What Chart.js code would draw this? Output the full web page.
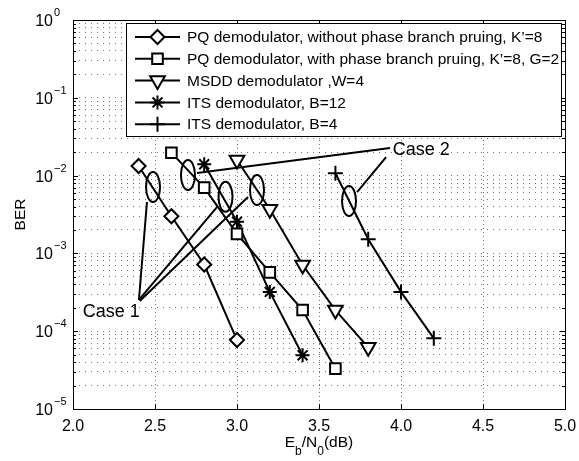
<!DOCTYPE html>
<html>
<head>
<meta charset="utf-8">
<script src="https://cdn.jsdelivr.net/npm/chart.js@4.4.1/dist/chart.umd.min.js"></script>
<style>
  html, body { margin: 0; padding: 0; background: #fff; }
  #wrap { width: 579px; height: 461px; }
</style>
</head>
<body>
<div id="wrap"><canvas id="ber" width="579" height="461"></canvas></div>
<script>
// Eb/N0 (dB) and measured BER for each curve
const snrPqNoPrune = [2.4, 2.6, 2.8, 3.0];
const berPqNoPrune = [0.0133, 0.0030, 0.00072, 0.000077];
const snrPqPrune = [2.6, 2.8, 3.0, 3.2, 3.4, 3.6];
const berPqPrune = [0.0197, 0.0070, 0.00178, 0.00057, 0.000187, 0.000033];
const snrMsdd = [3.0, 3.2, 3.4, 3.6, 3.8];
const berMsdd = [0.0159, 0.0037, 0.00071, 0.000187, 0.000062];
const snrIts12 = [2.8, 3.0, 3.2, 3.4];
const berIts12 = [0.0140, 0.00256, 0.00032, 0.000049];
const snrIts4 = [3.6, 3.8, 4.0, 4.2];
const berIts4 = [0.0107, 0.00152, 0.00032, 0.000081];

const seriesLabels = [
    'PQ demodulator, without phase branch pruing, K\u2019=8',
    'PQ demodulator, with phase branch pruing, K\u2019=8, G=2',
    'MSDD demodulator ,W=4',
    'ITS demodulator, B=12',
    'ITS demodulator, B=4'
];
const xTickLabels = ['2.0', '2.5', '3.0', '3.5', '4.0', '4.5', '5.0'];
const yDecades = [0, -1, -2, -3, -4, -5];

// annotation anchors, in axis units (Eb/N0, BER)
const caseNames = ['Case 1', 'Case 2'];
const caseTextAt = [[2.06, 1.77e-4], [3.95, 0.0213]];
const ringAt = [[2.488, 0.00714], [2.701, 0.01018], [2.93, 0.00535], [3.122, 0.00653], [3.683, 0.00472]];
const leaderLines = [
    [[2.402, 2.52e-4], [2.451, 0.00458]],
    [[2.402, 2.52e-4], [2.884, 0.00407]],
    [[2.407, 2.45e-4], [3.067, 0.00531]],
    [[3.933, 0.0226], [2.756, 0.0108]],
    [[3.909, 0.0173], [3.732, 0.00615]]
];

const FONT = '"Liberation Sans", Arial, Helvetica, sans-serif';

function pairs(xs, ys) {
    return xs.map(function (x, i) { return {x: x, y: ys[i]}; });
}

const markers = [
    {pointStyle: 'rectRot', rotation: 0, radius: 7},
    {pointStyle: 'rect', rotation: 0, radius: 7.5},
    {pointStyle: 'triangle', rotation: 180, radius: 8.5},
    {pointStyle: 'star', rotation: 0, radius: 7},
    {pointStyle: 'cross', rotation: 0, radius: 7.5}
];

const seriesData = [
    pairs(snrPqNoPrune, berPqNoPrune),
    pairs(snrPqPrune, berPqPrune),
    pairs(snrMsdd, berMsdd),
    pairs(snrIts12, berIts12),
    pairs(snrIts4, berIts4)
];

const datasets = seriesData.map(function (d, i) {
    return {
        label: seriesLabels[i],
        data: d,
        borderColor: '#000',
        borderWidth: 2,
        pointStyle: markers[i].pointStyle,
        pointRotation: markers[i].rotation,
        pointRadius: markers[i].radius,
        pointBorderColor: '#000',
        pointBackgroundColor: '#fff',
        pointBorderWidth: 2,
        tension: 0
    };
});

function drawMarker(ctx, m, x, y) {
    ctx.save();
    ctx.strokeStyle = '#000';
    ctx.fillStyle = '#fff';
    ctx.lineWidth = 2;
    Chart.helpers.drawPoint(ctx, {pointStyle: m.pointStyle, rotation: m.rotation, radius: m.radius, borderWidth: 2}, x, y);
    ctx.restore();
}

const annotations = {
    id: 'annotations',
    afterDatasetsDraw: function (chart) {
        const ctx = chart.ctx, xs = chart.scales.x, ys = chart.scales.y;
        ctx.save();
        ctx.strokeStyle = '#000';
        ctx.lineWidth = 2;
        ringAt.forEach(function (p) {
            ctx.beginPath();
            ctx.ellipse(xs.getPixelForValue(p[0]), ys.getPixelForValue(p[1]), 7, 15, 0, 0, Math.PI * 2);
            ctx.stroke();
        });
        leaderLines.forEach(function (l) {
            ctx.beginPath();
            ctx.moveTo(xs.getPixelForValue(l[0][0]), ys.getPixelForValue(l[0][1]));
            ctx.lineTo(xs.getPixelForValue(l[1][0]), ys.getPixelForValue(l[1][1]));
            ctx.stroke();
        });
        ctx.fillStyle = '#000';
        ctx.font = '18px ' + FONT;
        ctx.textAlign = 'left';
        ctx.textBaseline = 'middle';
        caseNames.forEach(function (t, i) {
            ctx.fillText(t, xs.getPixelForValue(caseTextAt[i][0]), ys.getPixelForValue(caseTextAt[i][1]));
        });
        ctx.restore();
    },
    afterDraw: function (chart) {
        const ctx = chart.ctx, a = chart.chartArea, xs = chart.scales.x, ys = chart.scales.y;
        ctx.save();
        ctx.strokeStyle = '#000';
        ctx.lineWidth = 1;
        // axes box
        ctx.strokeRect(Math.round(a.left) + 0.5, Math.round(a.top) + 0.5, Math.round(a.right - a.left), Math.round(a.bottom - a.top));

        // inward tick marks
        ctx.beginPath();
        ys.ticks.forEach(function (t) {
            const py = Math.round(ys.getPixelForValue(t.value)) + 0.5;
            const len = t.major ? 5 : 3;
            ctx.moveTo(a.left, py); ctx.lineTo(a.left + len, py);
            ctx.moveTo(a.right, py); ctx.lineTo(a.right - len, py);
        });
        xs.ticks.forEach(function (t) {
            const px = Math.round(xs.getPixelForValue(t.value)) + 0.5;
            ctx.moveTo(px, a.bottom); ctx.lineTo(px, a.bottom - 5);
            ctx.moveTo(px, a.top); ctx.lineTo(px, a.top + 5);
        });
        ctx.stroke();

        // tick labels
        ctx.fillStyle = '#000';
        ctx.textBaseline = 'alphabetic';
        ctx.textAlign = 'center';
        ctx.font = '16px ' + FONT;
        xTickLabels.forEach(function (s) {
            ctx.fillText(s, xs.getPixelForValue(parseFloat(s)), a.bottom + 22);
        });
        yDecades.forEach(function (e) {
            const py = ys.getPixelForValue(Math.pow(10, e));
            ctx.textAlign = 'right';
            ctx.font = '16px ' + FONT;
            ctx.fillText('10', a.left - 20, py + 6);
            ctx.textAlign = 'left';
            ctx.font = '11px ' + FONT;
            ctx.fillText(e === 0 ? '0' : '\u2212' + (-e), a.left - 19, py - 4);
        });

        // axis titles
        ctx.font = '15.5px ' + FONT;
        ctx.save();
        ctx.translate(19, (a.top + a.bottom) / 2);
        ctx.rotate(-Math.PI / 2);
        ctx.textAlign = 'center';
        ctx.fillText('BER', 0, 6);
        ctx.restore();

        const parts = [['E', 0, 15.5], ['b', 8, 12], ['/N', 0, 15.5], ['0', 8, 12], ['(dB)', 0, 15.5]];
        let total = 0;
        parts.forEach(function (p) { ctx.font = p[2] + 'px ' + FONT; total += ctx.measureText(p[0]).width; });
        let cx = (a.left + a.right) / 2 - total / 2;
        ctx.textAlign = 'left';
        parts.forEach(function (p) {
            ctx.font = p[2] + 'px ' + FONT;
            ctx.fillText(p[0], cx, 447 + p[1]);
            cx += ctx.measureText(p[0]).width;
        });

        // legend
        const lx = 126.5, ly = 23.5, lw = 435, lh = 113;
        ctx.fillStyle = '#fff';
        ctx.fillRect(lx, ly, lw, lh);
        ctx.strokeRect(lx, ly, lw, lh);
        ctx.font = '15.5px ' + FONT;
        ctx.textBaseline = 'middle';
        seriesLabels.forEach(function (s, i) {
            const ry = 37 + i * 21.8;
            ctx.lineWidth = 2;
            ctx.beginPath();
            ctx.moveTo(135, ry); ctx.lineTo(180, ry);
            ctx.stroke();
            drawMarker(ctx, markers[i], 157.5, ry);
            ctx.fillStyle = '#000';
            ctx.fillText(s, 187, ry + 1);
        });
        ctx.restore();
    }
};

new Chart(document.getElementById('ber'), {
    type: 'line',
    data: {datasets: datasets},
    options: {
        responsive: false,
        animation: false,
        layout: {padding: {left: 0, top: 20, right: 14, bottom: 0}},
        plugins: {legend: {display: false}, tooltip: {enabled: false}},
        scales: {
            x: {
                type: 'linear',
                min: 2, max: 5,
                ticks: {stepSize: 0.5, display: false},
                grid: {color: 'rgba(0,0,0,0.55)', lineWidth: 1, drawTicks: false},
                border: {display: false, dash: [1, 3]},
                afterFit: function (s) { s.height = 52; }
            },
            y: {
                type: 'logarithmic',
                min: 1e-5, max: 1,
                ticks: {display: false},
                grid: {color: 'rgba(0,0,0,0.55)', lineWidth: 1, drawTicks: false},
                border: {display: false, dash: [1, 5]},
                afterBuildTicks: function (s) {
                    const t = [];
                    for (let e = -5; e <= 0; e++) {
                        for (let m = 1; m <= 9; m++) {
                            const v = m * Math.pow(10, e);
                            if (v <= 1.0000001) t.push({value: v, major: m === 1});
                        }
                    }
                    s.ticks = t;
                },
                afterFit: function (s) { s.width = 73; }
            }
        }
    },
    plugins: [annotations]
});
</script>
</body>
</html>
